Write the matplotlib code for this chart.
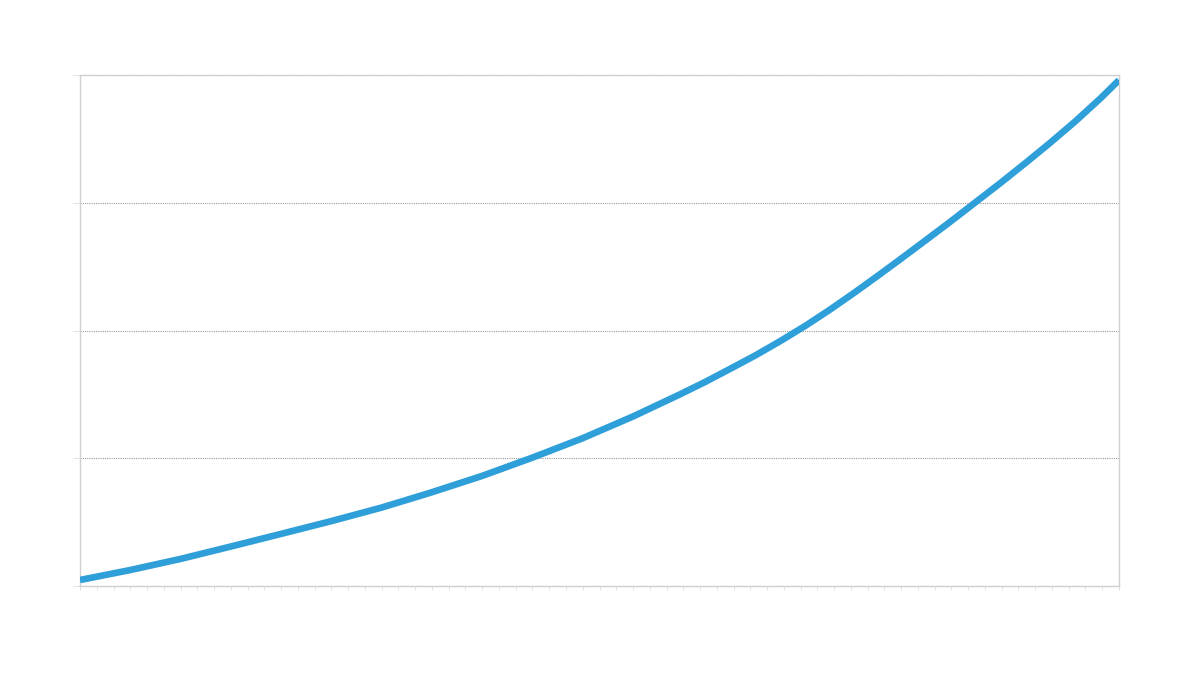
import matplotlib
matplotlib.use("Agg")
import matplotlib.pyplot as plt
import numpy as np

# period index (x) and values (y)
periods = [0, 3, 6, 9, 12, 15, 18, 21, 24, 27, 30, 33, 35.8, 37.3, 38.8, 40.3, 41.8,
           43.3, 44.75, 46.25, 47.7, 48.9, 50.4, 51.9, 53.4, 54.9, 56.4, 57.9, 59.4,
           60.9, 62]
values = [0.047, 0.125, 0.212, 0.309, 0.408, 0.508, 0.614, 0.734, 0.862, 1.005, 1.157,
          1.327, 1.500, 1.597, 1.700, 1.805, 1.918, 2.038, 2.163, 2.300, 2.437, 2.553,
          2.700, 2.848, 3.000, 3.152, 3.309, 3.470, 3.638, 3.818, 3.960]
y_gridlines = [0, 1, 2, 3, 4]
n_periods = 62

fig = plt.figure(figsize=(12, 6.75), dpi=100)
ax = fig.add_axes([80 / 1200, (675 - 586) / 675, 1039 / 1200, 511 / 675])

ax.plot(periods, values, color="#2E9FD9", linewidth=4.8, solid_capstyle="butt",
        solid_joinstyle="round", zorder=3)

ax.set_xlim(0, n_periods)
ax.set_ylim(0, 4)
ax.set_xticks(np.arange(0, n_periods + 1, 1))
ax.set_yticks(y_gridlines)
ax.set_xticklabels([])
ax.set_yticklabels([])
ax.tick_params(axis="x", direction="out", length=3, width=0.7, color="#E3E3E3")
ax.tick_params(axis="y", direction="out", length=5, width=0.7, color="#E3E3E3")

ax.yaxis.grid(True, linestyle=(0, (1, 1)), color="#9A9A9A", linewidth=0.8)
ax.xaxis.grid(False)
ax.set_axisbelow(True)

for side in ["left", "right", "top", "bottom"]:
    ax.spines[side].set_color("#D0D0D0")
    ax.spines[side].set_linewidth(1.0)

fig.savefig("out.png", dpi=100, facecolor="white")
